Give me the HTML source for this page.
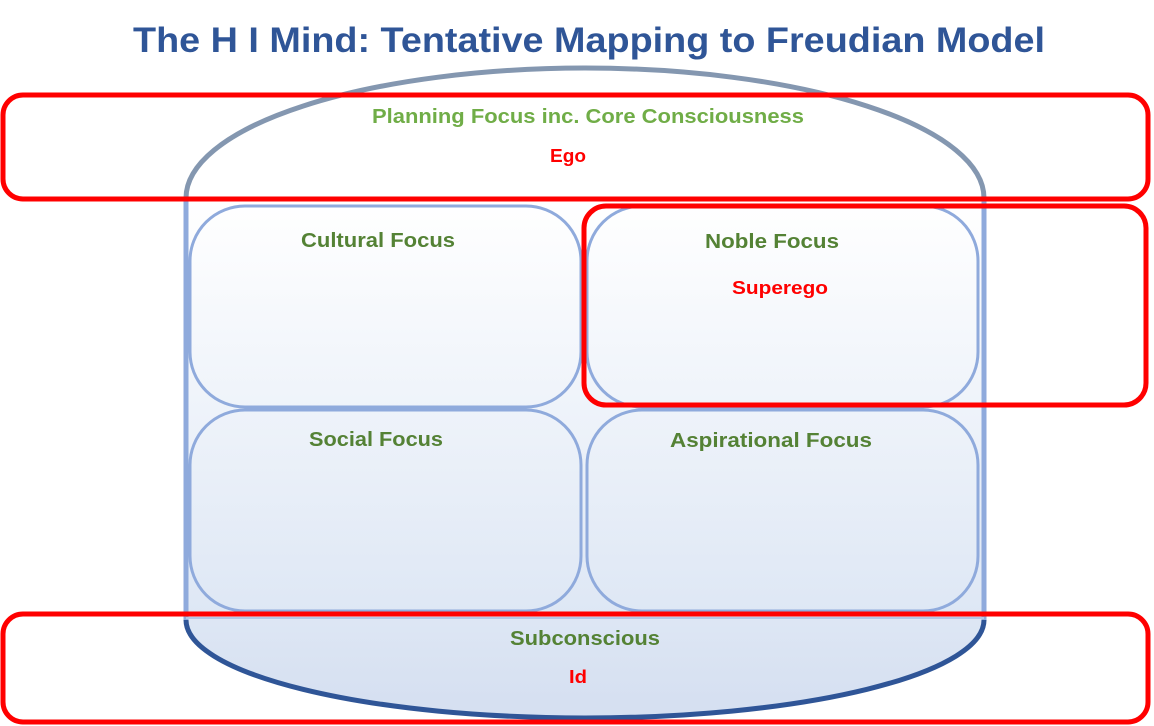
<!DOCTYPE html>
<html><head><meta charset="utf-8"><style>
html,body{margin:0;padding:0;background:#fff;}
svg{display:block;}
text{font-family:"Liberation Sans",sans-serif;font-weight:bold;}
</style></head><body>
<svg width="1154" height="726" viewBox="0 0 1154 726" xmlns="http://www.w3.org/2000/svg">
<defs>
<linearGradient id="gi" gradientUnits="userSpaceOnUse" x1="0" y1="200" x2="0" y2="700">
<stop offset="0" stop-color="#ffffff"/>
<stop offset="0.8" stop-color="#dfe8f5"/>
<stop offset="1" stop-color="#d6e0f1"/>
</linearGradient>
</defs>
<text x="589" y="52" font-size="35" fill="#2f5597" text-anchor="middle" textLength="912" lengthAdjust="spacingAndGlyphs">The H I Mind: Tentative Mapping to Freudian Model</text>

<path d="M186,198 A399,130 0 0 1 984,198 L984,620 A399,98 0 0 1 186,620 Z" fill="url(#gi)"/>
<path d="M186,198 A399,130 0 0 1 984,198" fill="none" stroke="#8497b0" stroke-width="5"/>
<path d="M186,198 L186,620 M984,198 L984,620" fill="none" stroke="#8faadc" stroke-width="5"/>
<path d="M984,620 A399,98 0 0 1 186,620" fill="none" stroke="#2f5597" stroke-width="5"/>
<line x1="186" y1="618" x2="984" y2="618" stroke="#b4c7e7" stroke-width="2"/>

<g fill="none" stroke="#8faadc" stroke-width="3">
<rect x="190" y="206" width="391" height="201" rx="55"/>
<rect x="587" y="206" width="391" height="201" rx="55"/>
<rect x="190" y="410" width="391" height="201" rx="55"/>
<rect x="587" y="410" width="391" height="201" rx="55"/>
</g>

<g fill="none" stroke="#ff0000" stroke-width="5">
<rect x="3" y="95" width="1145" height="104" rx="20"/>
<rect x="584" y="206" width="562" height="199" rx="22"/>
<rect x="3" y="614" width="1145" height="108" rx="20"/>
</g>

<text x="588" y="123" font-size="20" fill="#70ad47" text-anchor="middle" textLength="432" lengthAdjust="spacingAndGlyphs">Planning Focus inc. Core Consciousness</text>
<text x="568" y="162" font-size="18" fill="#ff0000" text-anchor="middle" textLength="36" lengthAdjust="spacingAndGlyphs">Ego</text>
<text x="378" y="247" font-size="20" fill="#548235" text-anchor="middle" textLength="154" lengthAdjust="spacingAndGlyphs">Cultural Focus</text>
<text x="772" y="248" font-size="20" fill="#548235" text-anchor="middle" textLength="134" lengthAdjust="spacingAndGlyphs">Noble Focus</text>
<text x="780" y="294" font-size="18" fill="#ff0000" text-anchor="middle" textLength="96" lengthAdjust="spacingAndGlyphs">Superego</text>
<text x="376" y="446" font-size="20" fill="#548235" text-anchor="middle" textLength="134" lengthAdjust="spacingAndGlyphs">Social Focus</text>
<text x="771" y="447" font-size="20" fill="#548235" text-anchor="middle" textLength="202" lengthAdjust="spacingAndGlyphs">Aspirational Focus</text>
<text x="585" y="645" font-size="20" fill="#548235" text-anchor="middle" textLength="150" lengthAdjust="spacingAndGlyphs">Subconscious</text>
<text x="578" y="683" font-size="18" fill="#ff0000" text-anchor="middle" textLength="18" lengthAdjust="spacingAndGlyphs">Id</text>
</svg>
</body></html>
